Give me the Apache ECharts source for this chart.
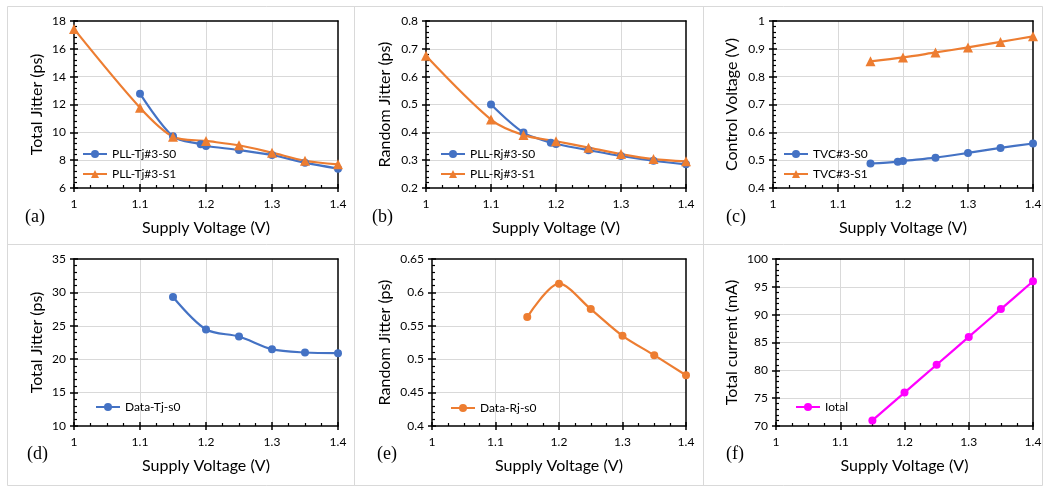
<!DOCTYPE html>
<html>
<head>
<meta charset="utf-8">
<script src="https://cdn.jsdelivr.net/npm/echarts@6/dist/echarts.min.js"></script>
<style>
html,body{margin:0;padding:0;background:#fff;}
#chart{width:1048px;height:488px;}
</style>
</head>
<body>
<div id="chart"></div>
<script>
// ---- Data ----
const xTickLabels = [1, 1.1, 1.2, 1.3, 1.4];
// (a) PLL total jitter
const voltPllS0 = [1.1, 1.15, 1.192, 1.2, 1.25, 1.3, 1.35, 1.4];
const voltPllS1 = [1.0, 1.1, 1.15, 1.2, 1.25, 1.3, 1.35, 1.4];
const pllTjS0 = [12.78, 9.71, 9.14, 9.02, 8.73, 8.37, 7.82, 7.39];
const pllTjS1 = [17.43, 11.77, 9.69, 9.38, 9.07, 8.54, 7.96, 7.70];
// (b) PLL random jitter
const pllRjS0 = [0.500, 0.399, 0.363, 0.358, 0.336, 0.315, 0.298, 0.285];
const pllRjS1 = [0.675, 0.446, 0.390, 0.368, 0.345, 0.322, 0.304, 0.296];
// (c) control voltage
const voltTvcS0 = [1.15, 1.192, 1.2, 1.25, 1.3, 1.35, 1.4];
const tvcS0 = [0.488, 0.494, 0.497, 0.509, 0.526, 0.544, 0.560];
const voltTvcS1 = [1.15, 1.2, 1.25, 1.3, 1.35, 1.4];
const tvcS1 = [0.855, 0.869, 0.887, 0.905, 0.925, 0.945];
// (d)(e)(f) data path
const voltData = [1.15, 1.2, 1.25, 1.3, 1.35, 1.4];
const dataTj = [29.3, 24.45, 23.4, 21.5, 21.0, 20.9];
const dataRj = [0.563, 0.613, 0.575, 0.535, 0.506, 0.476];
const iTotal = [71, 76, 81, 86, 91, 96];

const yTitles = ['Total Jitter (ps)', 'Random Jitter (ps)', 'Control Voltage (V)',
                 'Total Jitter (ps)', 'Random Jitter (ps)', 'Total current (mA)'];
const panelLabels = ['(a)', '(b)', '(c)', '(d)', '(e)', '(f)'];
const xTitle = 'Supply Voltage (V)';

function pairs(xs, ys) { return xs.map((x, i) => [x, ys[i]]); }

const BLUE = '#4472C4', ORANGE = '#ED7D31', MAGENTA = '#FF00FF';
const FONT = 'Lato';

const panels = [
  { grid: {left: 74, top: 21, width: 264, height: 167}, y: [6, 18, 2], gap: 29,
    legendPos: {left: 82, top: 148},
    series: [
      {name: 'PLL-Tj#3-S0', data: pairs(voltPllS0, pllTjS0), color: BLUE, symbol: 'circle', size: 8},
      {name: 'PLL-Tj#3-S1', data: pairs(voltPllS1, pllTjS1), color: ORANGE, symbol: 'triangle', size: 10}
    ]},
  { grid: {left: 426, top: 21, width: 260, height: 167}, y: [0.2, 0.8, 0.1], gap: 33,
    legendPos: {left: 440, top: 148},
    series: [
      {name: 'PLL-Rj#3-S0', data: pairs(voltPllS0, pllRjS0), color: BLUE, symbol: 'circle', size: 8},
      {name: 'PLL-Rj#3-S1', data: pairs(voltPllS1, pllRjS1), color: ORANGE, symbol: 'triangle', size: 10}
    ]},
  { grid: {left: 773, top: 21, width: 260, height: 167}, y: [0.4, 1, 0.1], gap: 33,
    legendPos: {left: 783, top: 148},
    series: [
      {name: 'TVC#3-S0', data: pairs(voltTvcS0, tvcS0), color: BLUE, symbol: 'circle', size: 8},
      {name: 'TVC#3-S1', data: pairs(voltTvcS1, tvcS1), color: ORANGE, symbol: 'triangle', size: 10}
    ]},
  { grid: {left: 74, top: 259, width: 264, height: 167}, y: [10, 35, 5], gap: 29,
    legendPos: {left: 95, top: 401},
    series: [
      {name: 'Data-Tj-s0', data: pairs(voltData, dataTj), color: BLUE, symbol: 'circle', size: 8}
    ]},
  { grid: {left: 432, top: 259, width: 254, height: 167}, y: [0.4, 0.65, 0.05], gap: 39,
    legendPos: {left: 450, top: 402},
    series: [
      {name: 'Data-Rj-s0', data: pairs(voltData, dataRj), color: ORANGE, symbol: 'circle', size: 8}
    ]},
  { grid: {left: 776, top: 259, width: 257, height: 167}, y: [70, 100, 5], gap: 36,
    legendPos: {left: 795, top: 401},
    series: [
      {name: 'Iotal', data: pairs(voltData, iTotal), color: MAGENTA, symbol: 'circle', size: 8}
    ]}
];

const option = {
  animation: false,
  backgroundColor: '#fff',
  grid: [], xAxis: [], yAxis: [], series: [], legend: [], graphic: []
};

const labelStyle = {color: '#000', fontFamily: FONT, fontSize: 12};
const nameStyle = {color: '#000', fontFamily: FONT, fontSize: 16};
const blackLine = {color: '#000', width: 1.5};
const gridLine = {show: true, showMinLine: false, showMaxLine: false, lineStyle: {color: '#d9d9d9', width: 1}};

panels.forEach((p, gi) => {
  option.grid.push(Object.assign({show: false}, p.grid));
  const xMin = xTickLabels[0], xMax = xTickLabels[xTickLabels.length - 1];
  const xi = option.xAxis.length;
  // primary x axis
  option.xAxis.push({
    type: 'value', gridIndex: gi, position: 'bottom', min: xMin, max: xMax, interval: 0.1, z: 2,
    name: xTitle, nameLocation: 'middle', nameGap: 32, nameTextStyle: nameStyle,
    axisLine: {lineStyle: blackLine, onZero: false},
    axisTick: {inside: true, length: 4, lineStyle: blackLine},
    minorTick: {show: true, splitNumber: 4, length: 3, lineStyle: {color: '#000', width: 1.2}},
    axisLabel: Object.assign({margin: 10}, labelStyle),
    splitLine: gridLine
  });
  // outer major tick stubs
  option.xAxis.push({
    type: 'value', gridIndex: gi, position: 'bottom', min: xMin, max: xMax, interval: 0.1, z: 2,
    axisLine: {show: false, onZero: false}, axisTick: {inside: false, length: 4, lineStyle: blackLine},
    axisLabel: {show: false}, splitLine: {show: false}
  });
  // top frame line
  option.xAxis.push({
    type: 'value', gridIndex: gi, position: 'top', min: xMin, max: xMax, interval: 0.1, z: 5,
    axisLine: {show: true, onZero: false, lineStyle: blackLine}, axisTick: {show: false},
    axisLabel: {show: false}, splitLine: {show: false}
  });
  const yi = option.yAxis.length;
  option.yAxis.push({
    type: 'value', gridIndex: gi, position: 'left', min: p.y[0], max: p.y[1], interval: p.y[2], z: 2,
    name: yTitles[gi], nameLocation: 'middle', nameGap: p.gap, nameTextStyle: nameStyle,
    axisLine: {show: true, lineStyle: blackLine, onZero: false},
    axisTick: {show: true, inside: true, length: 4, lineStyle: blackLine},
    minorTick: {show: true, splitNumber: 5, length: 3, lineStyle: {color: '#000', width: 1.2}},
    axisLabel: Object.assign({margin: 8}, labelStyle),
    splitLine: gridLine
  });
  option.yAxis.push({
    type: 'value', gridIndex: gi, position: 'left', min: p.y[0], max: p.y[1], interval: p.y[2], z: 2,
    axisLine: {show: false, onZero: false}, axisTick: {show: true, inside: false, length: 4, lineStyle: blackLine},
    axisLabel: {show: false}, splitLine: {show: false}
  });
  // right frame line
  option.yAxis.push({
    type: 'value', gridIndex: gi, position: 'right', min: p.y[0], max: p.y[1], interval: p.y[2], z: 5,
    axisLine: {show: true, onZero: false, lineStyle: blackLine}, axisTick: {show: false},
    axisLabel: {show: false}, splitLine: {show: false}
  });
  const names = [];
  p.series.forEach(s => {
    names.push(s.name);
    option.series.push({
      type: 'line', name: s.name, xAxisIndex: xi, yAxisIndex: yi, data: s.data,
      smooth: 0.3, symbol: s.symbol, symbolSize: s.size, showSymbol: true,
      itemStyle: {color: s.color}, lineStyle: {color: s.color, width: 2.2}, z: 6
    });
  });
  option.legend.push(Object.assign({
    data: names, orient: 'vertical', itemWidth: 24, itemHeight: 10, itemGap: 8,
    textStyle: {color: '#000', fontFamily: FONT, fontSize: 12}, padding: 0
  }, p.legendPos));
});

// panel labels
const labelPos = [[25, 219], [372, 219], [726, 219], [27, 456], [377, 456], [726, 456]];
panelLabels.forEach((t, i) => {
  option.graphic.push({type: 'text', left: labelPos[i][0], top: labelPos[i][1] - 11,
    style: {text: t, font: '18px "Liberation Serif"', fill: '#000'}});
});
// panel frame lines
const gray = {stroke: '#d9d9d9', lineWidth: 1};
[[7, 6, 1042, 6], [7, 244, 1042, 244], [7, 485, 1042, 485],
 [7, 6, 7, 485], [354, 6, 354, 485], [703, 6, 703, 485], [1042, 6, 1042, 485]].forEach(l => {
  option.graphic.push({type: 'line', shape: {x1: l[0] + 0.5, y1: l[1] + 0.5, x2: l[2] + 0.5, y2: l[3] + 0.5}, style: gray, silent: true, z: -1});
});

const chart = echarts.init(document.getElementById('chart'), null, {renderer: 'canvas'});
chart.setOption(option);
</script>
</body>
</html>
